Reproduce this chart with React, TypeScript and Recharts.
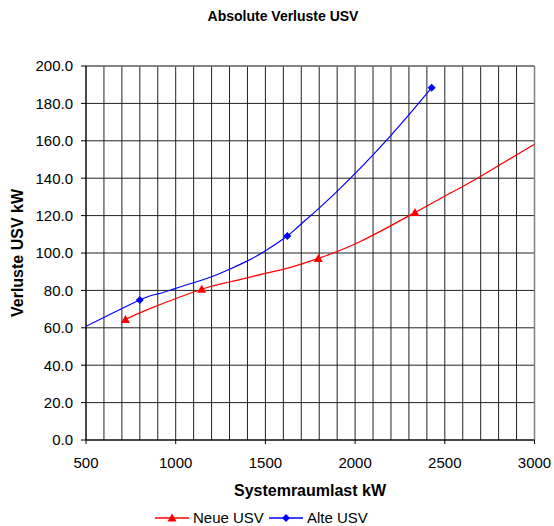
import React from "react";
import { ComposedChart, Line, Scatter, XAxis, YAxis, CartesianGrid, ReferenceLine } from "recharts";

// values
const neueCurveX = [720, 860, 1145, 1300, 1500, 1640, 1795, 2026, 2334, 2529, 2696, 3000];
const neueCurveY = [64.5, 70.4, 80.6, 84.5, 89.1, 92.3, 97.1, 106.0, 121.7, 131.9, 140.8, 158.2];
const neueMarkX = [720, 1145, 1795, 2334];
const neueMarkY = [64.5, 80.6, 97.1, 121.7];

const alteCurveX = [500, 800, 900, 1000, 1100, 1200, 1300, 1400, 1500, 1622, 1693, 1888, 2185, 2427];
const alteCurveY = [60.8, 74.9, 78.1, 81.1, 84.1, 87.3, 91.3, 95.8, 101.2, 109.1, 115.0, 131.9, 161.3, 188.4];
const alteMarkX = [800, 1622, 2427];
const alteMarkY = [74.9, 109.1, 188.4];

const xDomain = [500, 3000];
const yDomain = [0, 200];
const xTicks = [500, 1000, 1500, 2000, 2500, 3000];
const xGridTicks = [
  500, 600, 700, 800, 900, 1000, 1100, 1200, 1300, 1400, 1500, 1600, 1700,
  1800, 1900, 2000, 2100, 2200, 2300, 2400, 2500, 2600, 2700, 2800, 2900, 3000,
];
const yTicks = [0, 20, 40, 60, 80, 100, 120, 140, 160, 180, 200];

const toPoints = (xs: number[], ys: number[]) => xs.map((x, i) => ({ x, y: ys[i] }));

const FONT = "'Liberation Sans', Arial, sans-serif";
const RED = "#ff0000";
const BLUE = "#0000ff";

const Triangle = (props: any) => {
  const { cx, cy } = props;
  return <path d={`M${cx},${cy - 4.5} L${cx + 4.5},${cy + 3.5} L${cx - 4.5},${cy + 3.5} Z`} fill={RED} />;
};

const Diamond = (props: any) => {
  const { cx, cy } = props;
  return <path d={`M${cx},${cy - 4} L${cx + 4},${cy} L${cx},${cy + 4} L${cx - 4},${cy} Z`} fill={BLUE} />;
};

// vertical grid every 100 kW, placed inside the plot area
const gridX = ({ offset }: any) =>
  xGridTicks.map((v) => offset.left + ((v - xDomain[0]) / (xDomain[1] - xDomain[0])) * offset.width);

export default function App() {
  const tickStyle = { fontFamily: FONT, fontSize: 15, fill: "#000" };

  return (
    <div style={{ position: "absolute", left: 0, top: 0, width: 554, height: 526, background: "#fff", fontFamily: FONT }}>
      <div
        style={{
          position: "absolute", left: 0, top: 7, width: 566, lineHeight: "18px",
          textAlign: "center", fontSize: 14, fontWeight: "bold",
        }}
      >
        Absolute Verluste USV
      </div>

      <ComposedChart width={554} height={526} margin={{ top: 66, right: 19.5, bottom: 0, left: 0 }}>
        <CartesianGrid stroke="#222" strokeWidth={1} verticalCoordinatesGenerator={gridX} />
        <XAxis
          type="number"
          dataKey="x"
          domain={xDomain}
          ticks={xTicks}
          allowDataOverflow
          height={86}
          tickSize={4}
          tickMargin={13}
          tick={tickStyle}
          stroke="#000"
        />
        <YAxis
          type="number"
          domain={yDomain}
          ticks={yTicks}
          width={86}
          tickSize={5}
          tickMargin={8}
          tick={tickStyle}
          tickFormatter={(v: number) => v.toFixed(1)}
          stroke="#000"
          allowDataOverflow
        />
        {/* grey plot-area border on top and right */}
        <ReferenceLine y={yDomain[1]} stroke="#808080" strokeWidth={1.5} />
        <ReferenceLine x={xDomain[1]} stroke="#808080" strokeWidth={1.5} />
        <Line
          data={toPoints(neueCurveX, neueCurveY)}
          dataKey="y"
          type="natural"
          stroke={RED}
          strokeWidth={1.2}
          dot={false}
          isAnimationActive={false}
        />
        <Line
          data={toPoints(alteCurveX, alteCurveY)}
          dataKey="y"
          type="natural"
          stroke={BLUE}
          strokeWidth={1.2}
          dot={false}
          isAnimationActive={false}
        />
        <Scatter data={toPoints(neueMarkX, neueMarkY)} dataKey="y" shape={<Triangle />} isAnimationActive={false} />
        <Scatter data={toPoints(alteMarkX, alteMarkY)} dataKey="y" shape={<Diamond />} isAnimationActive={false} />
      </ComposedChart>

      <div
        style={{
          position: "absolute", left: -82, top: 244, width: 200, height: 18, lineHeight: "18px",
          textAlign: "center", fontSize: 16, fontWeight: "bold", transform: "rotate(-90deg)",
        }}
      >
        Verluste USV kW
      </div>

      <div
        style={{
          position: "absolute", left: 0, top: 482, width: 620, lineHeight: "18px",
          textAlign: "center", fontSize: 16, fontWeight: "bold",
        }}
      >
        Systemraumlast kW
      </div>

      <svg style={{ position: "absolute", left: 150, top: 510 }} width={50} height={16}>
        <line x1={5} y1={8} x2={39} y2={8} stroke={RED} strokeWidth={1.5} />
        <Triangle cx={22} cy={8} />
      </svg>
      <div style={{ position: "absolute", left: 193, top: 509, fontSize: 15, lineHeight: "18px" }}>Neue USV</div>

      <svg style={{ position: "absolute", left: 264, top: 510 }} width={50} height={16}>
        <line x1={5} y1={8} x2={39} y2={8} stroke={BLUE} strokeWidth={1.5} />
        <Diamond cx={22} cy={8} />
      </svg>
      <div style={{ position: "absolute", left: 307, top: 509, fontSize: 15, lineHeight: "18px" }}>Alte USV</div>
    </div>
  );
}
